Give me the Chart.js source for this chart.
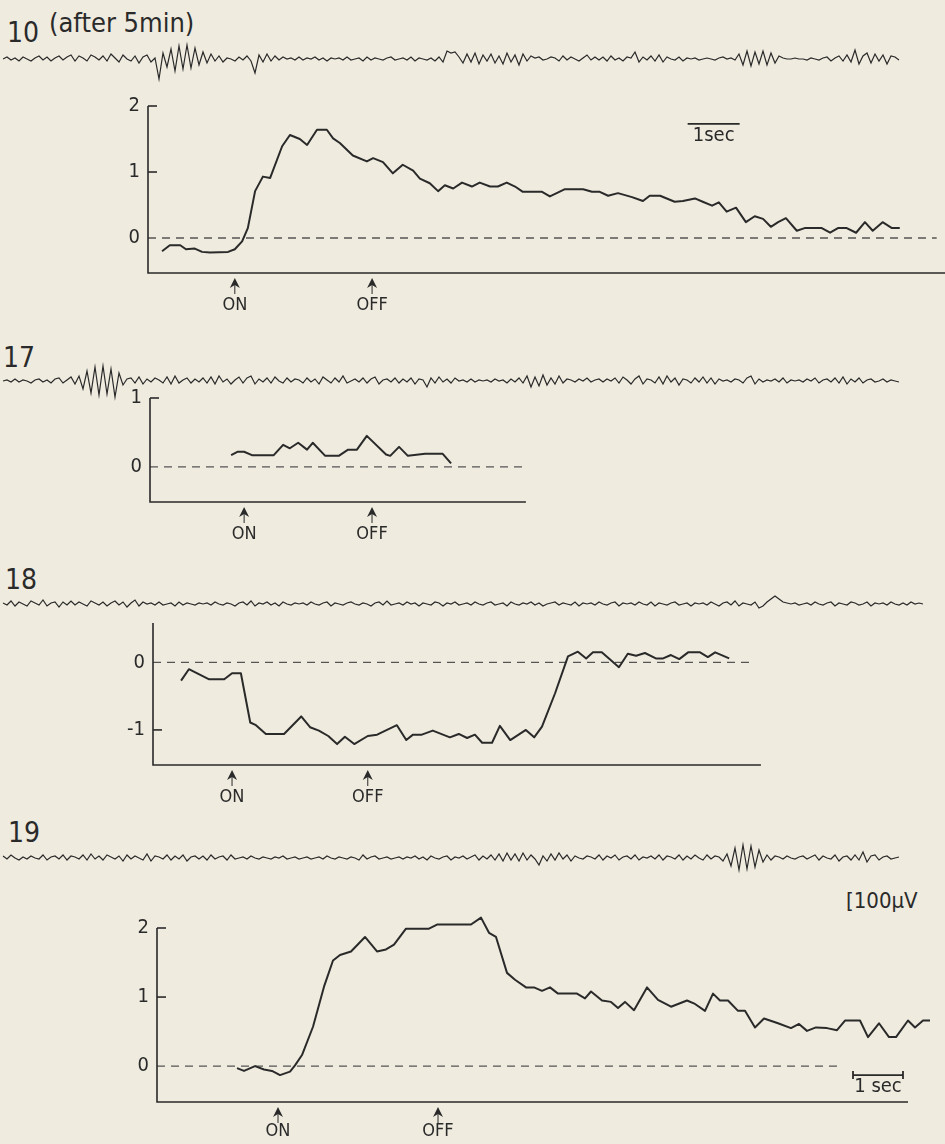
<!DOCTYPE html>
<html>
<head>
<meta charset="utf-8">
<script src="https://cdn.jsdelivr.net/npm/chart.js@4.4.1/dist/chart.umd.min.js"></script>
<style>
  html, body { margin: 0; padding: 0; background: #efebdf; }
  body { width: 945px; height: 1144px; position: relative; overflow: hidden; }
  canvas { position: absolute; }
  .lbl { position: absolute; font-family: 'DejaVu Sans Condensed', 'DejaVu Sans', sans-serif;
         color: #2a2a2a; line-height: 1; white-space: nowrap; }
</style>
</head>
<body>
<div class="lbl" style="left:7px;top:19px;font-size:28px;">10</div>
<div class="lbl" style="left:49px;top:9px;font-size:27px;">(after 5min)</div>
<div class="lbl" style="left:3px;top:344px;font-size:28px;">17</div>
<div class="lbl" style="left:5px;top:566px;font-size:28px;">18</div>
<div class="lbl" style="left:8px;top:819px;font-size:28px;">19</div>
<div class="lbl" style="left:846px;top:890px;font-size:22px;">[100µV</div>

<script>
const INK = "#2a2a2a";
const FONT = "'DejaVu Sans Condensed', 'DejaVu Sans', sans-serif";

// ---- EEG traces (amplitude, one sample every 4 px) ----
const eeg10 = [
  0,2,-1,1,-2,2,0,-2,1,3,-1,2,-2,1,3,-1,2,4,-2,3,1,-2,4,2,-1,
  3,-2,5,1,-3,4,0,-2,3,-4,2,4,-3,1,-20,6,-8,10,-12,13,-10,14,-9,11,-6,
  7,-4,5,-2,3,-3,1,0,-2,2,-1,3,-2,-14,4,-3,5,-2,3,-1,2,0,1,-1,2,
  -1,1,0,2,-1,1,-2,1,0,1,-1,2,-1,0,1,-2,2,-1,1,0,-1,1,2,-1,0,
  1,-1,2,-2,1,0,-1,1,-2,2,-3,8,6,7,2,-4,5,-3,6,-5,4,-2,5,-4,3,
  -5,6,-3,4,-6,5,-2,3,1,2,-1,0,2,1,-2,3,-1,2,0,-2,1,4,-1,2,-1,
  2,-2,3,-1,1,-2,2,1,7,-3,2,-1,3,-2,4,-3,2,0,-1,2,-2,1,0,1,-1,
  0,1,0,-1,1,2,0,1,-1,5,-6,8,-7,7,-5,8,-6,6,-4,3,1,0,0,1,0,
  0,-1,1,0,-1,1,2,-2,1,3,-2,4,-3,9,-5,3,6,-4,5,-2,4,-5,3,2,-1
];
const eeg17 = [
  0,1,-1,2,-1,1,0,-2,1,2,-1,1,-2,2,3,-2,1,4,-3,5,-8,10,-12,14,-14,
  15,-13,12,-16,8,-4,2,3,-2,4,-3,2,-1,3,1,-2,4,-3,5,-2,1,3,-2,2,-1,
  3,-2,4,-3,5,-1,2,-3,1,4,-2,3,5,-3,2,-1,3,-2,4,0,-2,3,-1,2,1,
  -2,3,-1,2,-3,4,1,-2,3,-1,5,-2,0,2,-1,3,-2,2,4,-3,1,2,-1,3,-2,
  2,-1,3,-3,2,1,-6,3,-2,4,-1,2,-2,3,0,1,-1,2,-1,1,0,1,-1,2,0,
  1,-2,2,-1,3,-2,5,-6,4,-5,6,-4,3,-3,5,-2,2,1,-1,2,0,3,-1,1,2,
  -1,2,0,3,-2,4,1,-3,2,5,-3,2,1,-2,4,-3,5,-1,3,-4,2,1,-2,3,-1,
  4,-2,3,-3,2,0,1,-1,2,1,-2,3,5,-3,2,-1,1,0,2,-1,3,-2,1,0,1,
  -1,2,0,3,-2,1,2,-1,3,-2,4,-3,2,-1,3,-2,1,2,-1,0,2,-1,1,0,-1
];
const eeg18 = [
  1,-1,3,-2,2,0,-2,3,1,-1,4,-2,1,2,-3,2,-1,3,-1,2,0,-2,3,1,-1,
  2,-2,1,3,-1,2,-3,1,4,-2,2,0,1,-1,2,-1,0,1,-2,2,-1,1,0,-1,1,
  0,1,-1,2,0,-1,1,0,-2,1,2,-1,3,-2,1,0,2,-1,1,-2,2,0,-1,1,0,
  1,-1,2,0,-1,1,2,-2,1,0,-1,1,2,0,-1,1,0,-2,1,2,-1,3,-1,0,1,
  -1,2,0,1,-2,1,0,-1,2,1,-2,1,0,2,-1,0,1,-1,2,0,-1,1,2,-1,0,
  1,-2,2,0,-1,1,0,2,-1,1,-2,0,1,2,-1,1,0,-1,2,-2,1,0,1,-1,2,
  0,-1,1,2,-2,1,0,1,-1,2,0,-1,2,-2,1,0,-1,1,2,-1,0,1,-2,1,0,
  1,-1,2,0,-2,1,2,-1,3,-2,1,0,-1,2,-4,-2,2,5,8,5,2,1,0,1,-1,
  0,1,-1,2,0,-1,1,2,-2,1,0,-1,2,1,-1,0,2,-2,1,0,1,-1,2,0,-1,
  1,-1,2,0,1,0
];
const eeg19 = [
  2,-1,3,0,-2,1,-1,2,0,-1,3,-2,1,2,-1,3,-2,2,1,-1,3,-2,4,-1,2,
  -2,3,1,-1,2,-3,3,-1,2,0,-2,4,-3,2,1,-1,3,-2,2,-1,3,-3,1,2,-1,
  2,-2,3,-1,1,2,-2,3,-1,0,1,-1,2,0,-1,1,0,-1,1,0,2,-1,0,1,-1,
  0,1,-1,0,1,-1,2,0,-1,1,0,-1,1,0,-2,3,-1,1,2,-1,0,1,-1,0,1,
  -1,1,0,2,-1,1,-2,2,0,-1,1,2,-2,1,0,2,-1,1,3,-2,2,-1,3,-2,4,
  -3,5,-2,4,-3,5,-2,3,-1,-7,2,-3,4,-2,5,-1,3,-3,2,0,-1,2,1,-1,3,
  -2,2,0,3,-2,1,2,-1,3,-2,1,0,2,-1,3,-2,2,1,-1,3,-2,2,-1,3,0,
  -2,3,-1,2,1,-3,4,-8,10,-12,13,-11,12,-9,8,-4,3,-2,2,1,-1,2,0,-1,1,
  2,-1,1,3,-2,2,0,-1,3,-3,1,2,-2,3,-2,6,-4,2,3,-2,1,2,-1,0,1
];

// ---- response curves: time (s) and value ----
const p10Time = [0.27,0.42,0.62,0.73,0.90,1.04,1.19,1.54,1.67,1.81,1.92,2.06,2.21,2.35,2.58,2.73,2.92,3.06,3.25,3.44,
  3.56,3.69,3.94,4.21,4.33,4.52,4.71,4.90,5.10,5.23,5.42,5.58,5.71,5.87,6.04,6.23,6.38,6.58,6.73,6.90,
  7.06,7.21,7.58,7.73,8.02,8.37,8.54,8.69,8.85,9.04,9.31,9.52,9.65,9.85,10.13,10.29,10.52,10.67,10.85,10.98,
  11.13,11.31,11.50,11.67,11.83,11.98,12.12,12.27,12.48,12.63,12.96,13.12,13.27,13.44,13.62,13.79,13.94,14.13,14.31,14.46];
const p10Value = [-0.20,-0.11,-0.11,-0.17,-0.16,-0.21,-0.22,-0.21,-0.17,-0.05,0.15,0.71,0.93,0.91,1.39,1.56,1.50,1.41,1.64,1.64,
  1.51,1.44,1.25,1.16,1.21,1.15,0.98,1.11,1.02,0.90,0.83,0.71,0.80,0.75,0.84,0.78,0.84,0.78,0.78,0.84,
  0.78,0.70,0.70,0.63,0.74,0.74,0.70,0.70,0.64,0.68,0.62,0.56,0.64,0.64,0.55,0.56,0.60,0.55,0.49,0.54,
  0.40,0.46,0.24,0.33,0.29,0.17,0.24,0.30,0.11,0.15,0.15,0.08,0.15,0.15,0.08,0.24,0.11,0.24,0.15,0.15];

const p17Time = [1.56,1.69,1.81,1.96,2.38,2.56,2.69,2.85,3.02,3.13,3.37,3.63,3.81,3.98,4.17,4.54,4.62,4.79,4.96,5.29,5.63,5.79];
const p17Value = [0.17,0.22,0.22,0.17,0.17,0.32,0.27,0.35,0.25,0.35,0.16,0.16,0.25,0.25,0.45,0.18,0.16,0.29,0.16,0.19,0.19,0.05];

const p18Time = [0.54,0.69,1.08,1.37,1.52,1.69,1.87,1.98,2.17,2.52,2.85,3.02,3.19,3.37,3.54,3.69,3.87,4.13,4.31,4.69,
  4.87,5.00,5.17,5.38,5.71,5.88,6.04,6.19,6.33,6.52,6.67,6.87,7.17,7.33,7.48,7.73,7.98,8.17,8.33,8.46,
  8.63,8.96,9.13,9.29,9.46,9.67,9.81,9.96,10.12,10.29,10.52,10.67,10.81,11.08];
const p18Value = [-0.27,-0.10,-0.25,-0.25,-0.16,-0.16,-0.89,-0.93,-1.06,-1.06,-0.80,-0.96,-1.01,-1.09,-1.21,-1.10,-1.21,-1.09,-1.07,-0.93,
  -1.15,-1.07,-1.07,-1.01,-1.11,-1.06,-1.12,-1.07,-1.19,-1.19,-0.94,-1.15,-1.00,-1.11,-0.95,-0.46,0.09,0.16,0.06,0.15,
  0.15,-0.07,0.13,0.10,0.14,0.06,0.06,0.11,0.05,0.15,0.15,0.08,0.15,0.06];

const p19Time = [1.60,1.74,1.96,2.14,2.30,2.46,2.66,2.76,2.90,3.12,3.34,3.52,3.66,3.88,4.16,4.40,4.58,4.74,4.98,5.44,
  5.60,6.28,6.48,6.64,6.78,7.00,7.16,7.38,7.54,7.70,7.86,8.02,8.40,8.56,8.68,8.90,9.08,9.22,9.36,9.54,
  9.80,10.02,10.28,10.60,10.76,10.96,11.12,11.26,11.42,11.62,11.76,11.96,12.14,12.42,12.68,12.84,13.00,13.18,13.40,13.60,
  13.76,14.06,14.22,14.44,14.64,14.78,15.02,15.16,15.32,15.46];
const p19Value = [-0.03,-0.07,0.00,-0.05,-0.07,-0.13,-0.08,0.01,0.16,0.57,1.15,1.53,1.61,1.66,1.87,1.66,1.69,1.76,1.99,1.99,
  2.05,2.05,2.15,1.93,1.87,1.35,1.25,1.14,1.14,1.09,1.14,1.05,1.05,0.98,1.08,0.95,0.93,0.84,0.93,0.81,
  1.14,0.96,0.86,0.95,0.90,0.80,1.05,0.95,0.95,0.80,0.80,0.56,0.69,0.62,0.55,0.61,0.51,0.56,0.55,0.52,
  0.66,0.66,0.42,0.62,0.42,0.42,0.66,0.56,0.66,0.66];

// stimulus ON / OFF times (s)
const p10Stim = [1.67, 4.31];
const p17Stim = [1.81, 4.27];
const p18Stim = [1.52, 4.13];
const p19Stim = [2.42, 5.62];

// y tick labels
const p10Ticks = [0, 1, 2];
const p17Ticks = [0, 1];
const p18Ticks = [-1, 0];
const p19Ticks = [0, 1, 2];

function addCanvas(left, top, w, h) {
  const c = document.createElement("canvas");
  c.width = w; c.height = h;
  c.style.left = left + "px"; c.style.top = top + "px";
  c.style.width = w + "px"; c.style.height = h + "px";
  document.body.appendChild(c);
  return c;
}

function drawTrace(values, left, midY) {
  const w = (values.length - 1) * 4 + 2;
  const c = addCanvas(left - 1, midY - 25, w, 50);
  new Chart(c, {
    type: "line",
    data: {
      labels: values.map((_, i) => i),
      datasets: [{ data: values, borderColor: INK, borderWidth: 1.2, pointRadius: 0, tension: 0 }],
    },
    options: {
      responsive: false, animation: false, events: [],
      layout: { padding: { left: 1, right: 1 } },
      plugins: { legend: { display: false }, tooltip: { enabled: false } },
      scales: { x: { display: false, offset: false }, y: { display: false, min: -25, max: 25 } },
    },
  });
}

// axes with inward ticks, stimulus arrows and the time bar
const figurePlugin = {
  id: "figure",
  afterDraw(chart, args, o) {
    const { ctx, chartArea: a } = chart;
    const x = chart.scales.x, y = chart.scales.y;
    ctx.save();
    ctx.strokeStyle = INK; ctx.fillStyle = INK; ctx.lineWidth = 1.6;
    ctx.beginPath();
    ctx.moveTo(a.left, a.top);
    ctx.lineTo(a.left, a.bottom);
    ctx.lineTo(x.getPixelForValue(o.xEnd), a.bottom);
    ctx.stroke();
    o.inward.forEach((v) => {
      const py = y.getPixelForValue(v);
      ctx.beginPath(); ctx.moveTo(a.left, py); ctx.lineTo(a.left + 9, py); ctx.stroke();
    });
    o.stim.forEach((t) => {
      const px = x.getPixelForValue(t), b = a.bottom;
      ctx.beginPath();
      ctx.moveTo(px, b + 5); ctx.lineTo(px - 5, b + 15); ctx.lineTo(px, b + 12); ctx.lineTo(px + 5, b + 15);
      ctx.closePath(); ctx.fill();
      ctx.lineWidth = 1;
      ctx.beginPath(); ctx.moveTo(px, b + 12); ctx.lineTo(px, b + 21); ctx.stroke();
    });
    if (o.bar) {
      const x0 = x.getPixelForValue(o.bar.from), x1 = x.getPixelForValue(o.bar.from + 1);
      const py = y.getPixelForValue(o.bar.level);
      ctx.lineWidth = 1.8;
      ctx.beginPath(); ctx.moveTo(x0, py); ctx.lineTo(x1, py);
      if (o.bar.caps) { ctx.moveTo(x0, py - 4); ctx.lineTo(x0, py + 4); ctx.moveTo(x1, py - 4); ctx.lineTo(x1, py + 4); }
      ctx.stroke();
      ctx.font = "20px " + FONT;
      ctx.textAlign = "center"; ctx.textBaseline = "top";
      ctx.fillText(o.bar.label, (x0 + x1) / 2, py + 2);
    }
    ctx.restore();
  },
};

function drawResponse(p) {
  const padTop = 20, axisH = 42, yW = 40;
  const h = padTop + (p.bottomPx - p.topPx) + axisH;
  const c = addCanvas(0, p.topPx - padTop, 945, h);
  const pts = p.time.map((t, i) => ({ x: t, y: p.value[i] }));
  new Chart(c, {
    type: "line",
    data: {
      datasets: [
        { data: pts, borderColor: INK, borderWidth: 2, pointRadius: 0, tension: 0, clip: false, borderJoinStyle: "round" },
        { data: [{ x: 0, y: 0 }, { x: p.zeroEnd, y: 0 }], borderColor: "#555", borderWidth: 1.3,
          borderDash: [8, 6], pointRadius: 0 },
      ],
    },
    options: {
      responsive: false, animation: false, events: [],
      layout: { padding: { left: p.axisLeft - yW, top: padTop, right: 0, bottom: 0 } },
      plugins: {
        legend: { display: false }, tooltip: { enabled: false },
        figure: { xEnd: p.xEnd, inward: p.ticks.filter((v) => v !== 0), stim: p.stim, bar: p.bar || null },
      },
      scales: {
        x: {
          type: "linear", min: 0, max: p.tMax,
          grid: { display: false, drawTicks: false }, border: { display: false },
          afterBuildTicks: (s) => { s.ticks = p.stim.map((v) => ({ value: v })); },
          afterFit: (s) => { s.height = axisH; },
          ticks: {
            autoSkip: false, maxRotation: 0, padding: p.labelGap, color: INK,
            font: { family: FONT, size: 18, lineHeight: 1 },
            callback: (v, i) => ["ON", "OFF"][i],
          },
        },
        y: {
          type: "linear", min: p.yMin, max: p.yMax,
          grid: { display: false, drawTicks: false }, border: { display: false },
          afterBuildTicks: (s) => { s.ticks = p.ticks.map((v) => ({ value: v })); },
          afterFit: (s) => { s.width = yW; },
          ticks: { autoSkip: false, padding: 8, color: INK, font: { family: FONT, size: 20 }, callback: (v) => String(v) },
        },
      },
    },
    plugins: [figurePlugin],
  });
}

drawTrace(eeg10, 3, 59);
drawTrace(eeg17, 3, 381);
drawTrace(eeg18, 3, 604);
drawTrace(eeg19, 3, 858);

drawResponse({ time: p10Time, value: p10Value, ticks: p10Ticks, stim: p10Stim,
  axisLeft: 148, topPx: 106, bottomPx: 273, yMin: -0.53, yMax: 2, tMax: 15.33,
  xEnd: 15.33, zeroEnd: 15.17, labelGap: 23, bar: { from: 10.38, level: 1.73, label: "1sec", caps: false } });
drawResponse({ time: p17Time, value: p17Value, ticks: p17Ticks, stim: p17Stim,
  axisLeft: 150, topPx: 398, bottomPx: 502, yMin: -0.51, yMax: 1, tMax: 15.29,
  xEnd: 7.23, zeroEnd: 7.23, labelGap: 23 });
drawResponse({ time: p18Time, value: p18Value, ticks: p18Ticks, stim: p18Stim,
  axisLeft: 153, topPx: 623, bottomPx: 765, yMin: -1.52, yMax: 0.585, tMax: 15.23,
  xEnd: 11.69, zeroEnd: 11.56, labelGap: 23 });
drawResponse({ time: p19Time, value: p19Value, ticks: p19Ticks, stim: p19Stim,
  axisLeft: 157, topPx: 928, bottomPx: 1102, yMin: -0.52, yMax: 2, tMax: 15.76,
  xEnd: 15.02, zeroEnd: 13.68, labelGap: 20, bar: { from: 13.92, level: -0.13, label: "1 sec", caps: true } });
</script>
</body>
</html>
